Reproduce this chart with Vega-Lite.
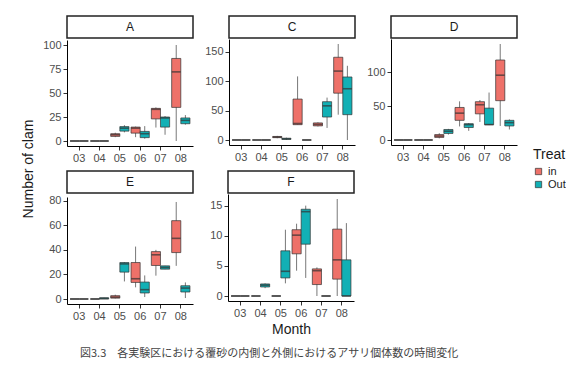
{
  "$schema": "https://vega.github.io/schema/vega-lite/v6.json",
  "background": "white",
  "padding": {"left": 22, "top": 15, "right": 0, "bottom": 0},
  "datasets": {
    "boxes": [
      {"site": "A", "month": "03", "treat": "in", "lo": 0, "q1": 0, "med": 0, "q3": 0, "hi": 0},
      {"site": "A", "month": "03", "treat": "Out", "lo": 0, "q1": 0, "med": 0, "q3": 0, "hi": 0},
      {"site": "A", "month": "04", "treat": "in", "lo": 0, "q1": 0, "med": 0, "q3": 0, "hi": 0},
      {"site": "A", "month": "04", "treat": "Out", "lo": 0, "q1": 0, "med": 0, "q3": 0, "hi": 0},
      {"site": "A", "month": "05", "treat": "in", "lo": 4, "q1": 4.8, "med": 6.5, "q3": 7.6, "hi": 8.6},
      {"site": "A", "month": "05", "treat": "Out", "lo": 9, "q1": 10.3, "med": 13.4, "q3": 15, "hi": 16.5},
      {"site": "A", "month": "06", "treat": "in", "lo": 4, "q1": 8.2, "med": 13.4, "q3": 14.5, "hi": 15},
      {"site": "A", "month": "06", "treat": "Out", "lo": 2.4, "q1": 3.5, "med": 7.6, "q3": 10, "hi": 15.5},
      {"site": "A", "month": "07", "treat": "in", "lo": 14, "q1": 23, "med": 33, "q3": 34, "hi": 35},
      {"site": "A", "month": "07", "treat": "Out", "lo": 6.5, "q1": 14.5, "med": 24, "q3": 25, "hi": 26},
      {"site": "A", "month": "08", "treat": "in", "lo": 0, "q1": 35, "med": 72, "q3": 86, "hi": 100},
      {"site": "A", "month": "08", "treat": "Out", "lo": 17, "q1": 18, "med": 21.5, "q3": 24, "hi": 27},

      {"site": "C", "month": "03", "treat": "in", "lo": 0, "q1": 0, "med": 0, "q3": 0, "hi": 0},
      {"site": "C", "month": "03", "treat": "Out", "lo": 0, "q1": 0, "med": 0, "q3": 0, "hi": 0},
      {"site": "C", "month": "04", "treat": "in", "lo": 0, "q1": 0, "med": 0, "q3": 0, "hi": 0},
      {"site": "C", "month": "04", "treat": "Out", "lo": 0, "q1": 0, "med": 0, "q3": 0, "hi": 0},
      {"site": "C", "month": "05", "treat": "in", "lo": 3, "q1": 4, "med": 5, "q3": 6, "hi": 7},
      {"site": "C", "month": "05", "treat": "Out", "lo": 0, "q1": 1, "med": 2, "q3": 3, "hi": 4},
      {"site": "C", "month": "06", "treat": "in", "lo": 26, "q1": 26, "med": 28, "q3": 69.5, "hi": 108},
      {"site": "C", "month": "06", "treat": "Out", "lo": 0, "q1": 0, "med": 0, "q3": 0, "hi": 0},
      {"site": "C", "month": "07", "treat": "in", "lo": 23, "q1": 24, "med": 26.5, "q3": 29, "hi": 30},
      {"site": "C", "month": "07", "treat": "Out", "lo": 20.5, "q1": 39, "med": 58, "q3": 65, "hi": 72},
      {"site": "C", "month": "08", "treat": "in", "lo": 43, "q1": 79.5, "med": 117, "q3": 140.5, "hi": 163},
      {"site": "C", "month": "08", "treat": "Out", "lo": 0, "q1": 43, "med": 87, "q3": 107, "hi": 126},

      {"site": "D", "month": "03", "treat": "in", "lo": 0, "q1": 0, "med": 0, "q3": 0, "hi": 0},
      {"site": "D", "month": "03", "treat": "Out", "lo": 0, "q1": 0, "med": 0, "q3": 0, "hi": 0},
      {"site": "D", "month": "04", "treat": "in", "lo": 0, "q1": 0, "med": 0, "q3": 0, "hi": 0},
      {"site": "D", "month": "04", "treat": "Out", "lo": 0, "q1": 0, "med": 0, "q3": 0, "hi": 0},
      {"site": "D", "month": "05", "treat": "in", "lo": 2.4, "q1": 3.8, "med": 5.8, "q3": 8, "hi": 10},
      {"site": "D", "month": "05", "treat": "Out", "lo": 8, "q1": 9.7, "med": 13, "q3": 15.5, "hi": 16.4},
      {"site": "D", "month": "06", "treat": "in", "lo": 20, "q1": 29, "med": 39.6, "q3": 48, "hi": 57},
      {"site": "D", "month": "06", "treat": "Out", "lo": 13.5, "q1": 18.4, "med": 22.7, "q3": 24, "hi": 25},
      {"site": "D", "month": "07", "treat": "in", "lo": 26.6, "q1": 38.6, "med": 52, "q3": 56.5, "hi": 59},
      {"site": "D", "month": "07", "treat": "Out", "lo": 22, "q1": 22.7, "med": 22.7, "q3": 47, "hi": 70},
      {"site": "D", "month": "08", "treat": "in", "lo": 20.7, "q1": 58, "med": 95.6, "q3": 118, "hi": 141.6},
      {"site": "D", "month": "08", "treat": "Out", "lo": 15.5, "q1": 20.7, "med": 25.6, "q3": 29, "hi": 30.4},

      {"site": "E", "month": "03", "treat": "in", "lo": 0, "q1": 0, "med": 0, "q3": 0, "hi": 0},
      {"site": "E", "month": "03", "treat": "Out", "lo": 0, "q1": 0, "med": 0, "q3": 0, "hi": 0},
      {"site": "E", "month": "04", "treat": "in", "lo": 0, "q1": 0, "med": 0, "q3": 0, "hi": 0},
      {"site": "E", "month": "04", "treat": "Out", "lo": 0, "q1": 0, "med": 0.5, "q3": 1, "hi": 1},
      {"site": "E", "month": "05", "treat": "in", "lo": 0.5, "q1": 0.7, "med": 1.5, "q3": 2.7, "hi": 3.5},
      {"site": "E", "month": "05", "treat": "Out", "lo": 14.3, "q1": 21.9, "med": 28.6, "q3": 29.7, "hi": 30},
      {"site": "E", "month": "06", "treat": "in", "lo": 9.5, "q1": 13.5, "med": 16.5, "q3": 29.7, "hi": 42.7},
      {"site": "E", "month": "06", "treat": "Out", "lo": 1.6, "q1": 4.9, "med": 7.6, "q3": 13.8, "hi": 19.2},
      {"site": "E", "month": "07", "treat": "in", "lo": 19, "q1": 27.3, "med": 36, "q3": 38.6, "hi": 40},
      {"site": "E", "month": "07", "treat": "Out", "lo": 24.3, "q1": 24.3, "med": 25.7, "q3": 27, "hi": 27},
      {"site": "E", "month": "08", "treat": "in", "lo": 27, "q1": 37.8, "med": 49.4, "q3": 63.8, "hi": 79},
      {"site": "E", "month": "08", "treat": "Out", "lo": 0.8, "q1": 5.7, "med": 8.9, "q3": 10.8, "hi": 13.5},

      {"site": "F", "month": "03", "treat": "in", "lo": 0, "q1": 0, "med": 0, "q3": 0, "hi": 0},
      {"site": "F", "month": "03", "treat": "Out", "lo": 0, "q1": 0, "med": 0, "q3": 0, "hi": 0},
      {"site": "F", "month": "04", "treat": "in", "lo": 0, "q1": 0, "med": 0, "q3": 0, "hi": 0},
      {"site": "F", "month": "04", "treat": "Out", "lo": 1.3, "q1": 1.5, "med": 1.8, "q3": 2, "hi": 2.1},
      {"site": "F", "month": "05", "treat": "in", "lo": 0, "q1": 0, "med": 0, "q3": 0, "hi": 0},
      {"site": "F", "month": "05", "treat": "Out", "lo": 2.1, "q1": 3, "med": 4.1, "q3": 7.5, "hi": 11},
      {"site": "F", "month": "06", "treat": "in", "lo": 4.2, "q1": 7, "med": 10.1, "q3": 11, "hi": 12},
      {"site": "F", "month": "06", "treat": "Out", "lo": 3, "q1": 8.6, "med": 14, "q3": 14.4, "hi": 15},
      {"site": "F", "month": "07", "treat": "in", "lo": 0, "q1": 1.9, "med": 4.2, "q3": 4.5, "hi": 4.75},
      {"site": "F", "month": "07", "treat": "Out", "lo": 0, "q1": 0, "med": 0, "q3": 0, "hi": 0},
      {"site": "F", "month": "08", "treat": "in", "lo": 0, "q1": 2.8, "med": 6, "q3": 11.1, "hi": 16.1},
      {"site": "F", "month": "08", "treat": "Out", "lo": 0, "q1": 0, "med": 0, "q3": 6, "hi": 12.1}
    ]
  },
  "title": {
    "text": "図3.3　各実験区における覆砂の内側と外側におけるアサリ個体数の時間変化",
    "orient": "bottom",
    "anchor": "start",
    "frame": "group",
    "dx": 58,
    "offset": 12,
    "font": "Noto Sans CJK JP",
    "fontSize": 11,
    "fontWeight": "normal",
    "color": "#444444"
  },
  "spacing": 6,
  "resolve": {"scale": {"xOffset": "independent"}},
  "hconcat": [
    {
      "width": 14, "height": 306,
      "data": {"values": [{"label": "Number of clam"}]},
      "mark": {"type": "text", "angle": 270, "fontSize": 14, "color": "#1a1a1a", "font": "Liberation Sans"},
      "encoding": {"text": {"field": "label"}}
    },
    {
      "spacing": 7,
      "resolve": {"scale": {"xOffset": "independent"}},
      "vconcat": [
        {
          "spacing": 10,
          "resolve": {"scale": {"xOffset": "independent"}},
          "hconcat": [
            {
              "spacing": 0,
              "resolve": {"scale": {"xOffset": "independent"}},
              "vconcat": [
                {"width": 126, "height": 22, "data": {"values": [{"site": "A"}]}, "mark": {"type": "text", "fontSize": 12, "color": "#1a1a1a", "font": "Liberation Sans"}, "encoding": {"text": {"field": "site"}}, "view": {"stroke": "#222222", "strokeWidth": 1.5, "fill": "white"}},
                {
                  "width": 126, "height": 106,
                  "data": {"name": "boxes"},
                  "transform": [{"filter": "datum.site === 'A'"}],
                  "encoding": {
                    "x": {"field": "month", "type": "nominal", "scale": {"paddingInner": 0.1, "paddingOuter": 0.15}, "axis": {"title": null}},
                    "xOffset": {"field": "treat", "type": "nominal", "scale": {"domain": ["in", "Out"], "paddingInner": 0, "paddingOuter": 0}}
                  },
                  "layer": [
                    {"mark": {"type": "rule", "color": "#555555", "strokeWidth": 0.8}, "encoding": {"y": {"field": "lo", "type": "quantitative", "scale": {"padding": 5, "nice": false}, "axis": {"values": [0, 25, 50, 75, 100], "title": null}}, "y2": {"field": "hi"}}},
                    {"mark": {"type": "bar", "stroke": "#333333", "strokeWidth": 0.7}, "encoding": {"y": {"field": "q1", "type": "quantitative", "axis": {"values": [0, 25, 50, 75, 100], "title": null}}, "y2": {"field": "q3"}, "color": {"field": "treat", "type": "nominal", "scale": {"domain": ["in", "Out"], "range": ["#EE7169", "#12B0B5"]}, "legend": {"title": "Treat", "orient": "none", "legendX": 511, "legendY": 132}}}},
                    {"mark": {"type": "tick", "color": "#333333", "thickness": 1.6, "size": 9}, "encoding": {"y": {"field": "med", "type": "quantitative", "axis": {"values": [0, 25, 50, 75, 100], "title": null}}}}
                  ]
                }
              ]
            },
            {
              "spacing": 0,
              "resolve": {"scale": {"xOffset": "independent"}},
              "vconcat": [
                {"width": 126, "height": 22, "data": {"values": [{"site": "C"}]}, "mark": {"type": "text", "fontSize": 12, "color": "#1a1a1a", "font": "Liberation Sans"}, "encoding": {"text": {"field": "site"}}, "view": {"stroke": "#222222", "strokeWidth": 1.5, "fill": "white"}},
                {
                  "width": 126, "height": 106,
                  "data": {"name": "boxes"},
                  "transform": [{"filter": "datum.site === 'C'"}],
                  "encoding": {
                    "x": {"field": "month", "type": "nominal", "scale": {"paddingInner": 0.1, "paddingOuter": 0.15}, "axis": {"title": null}},
                    "xOffset": {"field": "treat", "type": "nominal", "scale": {"domain": ["in", "Out"], "paddingInner": 0, "paddingOuter": 0}}
                  },
                  "layer": [
                    {"mark": {"type": "rule", "color": "#555555", "strokeWidth": 0.8}, "encoding": {"y": {"field": "lo", "type": "quantitative", "scale": {"padding": 5, "nice": false}, "axis": {"values": [0, 50, 100, 150], "title": null}}, "y2": {"field": "hi"}}},
                    {"mark": {"type": "bar", "stroke": "#333333", "strokeWidth": 0.7}, "encoding": {"y": {"field": "q1", "type": "quantitative", "axis": {"values": [0, 50, 100, 150], "title": null}}, "y2": {"field": "q3"}, "color": {"field": "treat", "type": "nominal"}}},
                    {"mark": {"type": "tick", "color": "#333333", "thickness": 1.6, "size": 9}, "encoding": {"y": {"field": "med", "type": "quantitative", "axis": {"values": [0, 50, 100, 150], "title": null}}}}
                  ]
                }
              ]
            },
            {
              "spacing": 0,
              "resolve": {"scale": {"xOffset": "independent"}},
              "vconcat": [
                {"width": 126, "height": 22, "data": {"values": [{"site": "D"}]}, "mark": {"type": "text", "fontSize": 12, "color": "#1a1a1a", "font": "Liberation Sans"}, "encoding": {"text": {"field": "site"}}, "view": {"stroke": "#222222", "strokeWidth": 1.5, "fill": "white"}},
                {
                  "width": 126, "height": 106,
                  "data": {"name": "boxes"},
                  "transform": [{"filter": "datum.site === 'D'"}],
                  "encoding": {
                    "x": {"field": "month", "type": "nominal", "scale": {"paddingInner": 0.1, "paddingOuter": 0.15}, "axis": {"title": null}},
                    "xOffset": {"field": "treat", "type": "nominal", "scale": {"domain": ["in", "Out"], "paddingInner": 0, "paddingOuter": 0}}
                  },
                  "layer": [
                    {"mark": {"type": "rule", "color": "#555555", "strokeWidth": 0.8}, "encoding": {"y": {"field": "lo", "type": "quantitative", "scale": {"padding": 5, "nice": false}, "axis": {"values": [0, 50, 100], "title": null}}, "y2": {"field": "hi"}}},
                    {"mark": {"type": "bar", "stroke": "#333333", "strokeWidth": 0.7}, "encoding": {"y": {"field": "q1", "type": "quantitative", "axis": {"values": [0, 50, 100], "title": null}}, "y2": {"field": "q3"}, "color": {"field": "treat", "type": "nominal"}}},
                    {"mark": {"type": "tick", "color": "#333333", "thickness": 1.6, "size": 9}, "encoding": {"y": {"field": "med", "type": "quantitative", "axis": {"values": [0, 50, 100], "title": null}}}}
                  ]
                }
              ]
            }
          ]
        },
        {
          "spacing": 15,
          "resolve": {"scale": {"xOffset": "independent"}},
          "hconcat": [
            {
              "spacing": 0,
              "resolve": {"scale": {"xOffset": "independent"}},
              "vconcat": [
                {"width": 126, "height": 22, "data": {"values": [{"site": "E"}]}, "mark": {"type": "text", "fontSize": 12, "color": "#1a1a1a", "font": "Liberation Sans"}, "encoding": {"text": {"field": "site"}}, "view": {"stroke": "#222222", "strokeWidth": 1.5, "fill": "white"}},
                {
                  "width": 126, "height": 107,
                  "data": {"name": "boxes"},
                  "transform": [{"filter": "datum.site === 'E'"}],
                  "encoding": {
                    "x": {"field": "month", "type": "nominal", "scale": {"paddingInner": 0.1, "paddingOuter": 0.15}, "axis": {"title": null}},
                    "xOffset": {"field": "treat", "type": "nominal", "scale": {"domain": ["in", "Out"], "paddingInner": 0, "paddingOuter": 0}}
                  },
                  "layer": [
                    {"mark": {"type": "rule", "color": "#555555", "strokeWidth": 0.8}, "encoding": {"y": {"field": "lo", "type": "quantitative", "scale": {"padding": 5, "nice": false}, "axis": {"values": [0, 20, 40, 60, 80], "title": null}}, "y2": {"field": "hi"}}},
                    {"mark": {"type": "bar", "stroke": "#333333", "strokeWidth": 0.7}, "encoding": {"y": {"field": "q1", "type": "quantitative", "axis": {"values": [0, 20, 40, 60, 80], "title": null}}, "y2": {"field": "q3"}, "color": {"field": "treat", "type": "nominal"}}},
                    {"mark": {"type": "tick", "color": "#333333", "thickness": 1.6, "size": 9}, "encoding": {"y": {"field": "med", "type": "quantitative", "axis": {"values": [0, 20, 40, 60, 80], "title": null}}}}
                  ]
                }
              ]
            },
            {
              "spacing": 0,
              "resolve": {"scale": {"xOffset": "independent"}},
              "vconcat": [
                {"width": 126, "height": 22, "data": {"values": [{"site": "F"}]}, "mark": {"type": "text", "fontSize": 12, "color": "#1a1a1a", "font": "Liberation Sans"}, "encoding": {"text": {"field": "site"}}, "view": {"stroke": "#222222", "strokeWidth": 1.5, "fill": "white"}},
                {
                  "width": 126, "height": 107,
                  "data": {"name": "boxes"},
                  "transform": [{"filter": "datum.site === 'F'"}],
                  "encoding": {
                    "x": {"field": "month", "type": "nominal", "scale": {"paddingInner": 0.1, "paddingOuter": 0.15}, "axis": {"title": "Month"}},
                    "xOffset": {"field": "treat", "type": "nominal", "scale": {"domain": ["in", "Out"], "paddingInner": 0, "paddingOuter": 0}}
                  },
                  "layer": [
                    {"mark": {"type": "rule", "color": "#555555", "strokeWidth": 0.8}, "encoding": {"y": {"field": "lo", "type": "quantitative", "scale": {"padding": 5, "nice": false}, "axis": {"values": [0, 5, 10, 15], "title": null}}, "y2": {"field": "hi"}}},
                    {"mark": {"type": "bar", "stroke": "#333333", "strokeWidth": 0.7}, "encoding": {"y": {"field": "q1", "type": "quantitative", "axis": {"values": [0, 5, 10, 15], "title": null}}, "y2": {"field": "q3"}, "color": {"field": "treat", "type": "nominal"}}},
                    {"mark": {"type": "tick", "color": "#333333", "thickness": 1.6, "size": 9}, "encoding": {"y": {"field": "med", "type": "quantitative", "axis": {"values": [0, 5, 10, 15], "title": null}}}}
                  ]
                }
              ]
            }
          ]
        }
      ]
    }
  ],
  "config": {
    "font": "Liberation Sans",
    "view": {"stroke": null},
    "axis": {
      "grid": false,
      "domainColor": "#000000",
      "domainWidth": 1,
      "tickColor": "#333333",
      "tickSize": 4,
      "tickWidth": 1,
      "labelFontSize": 11,
      "labelColor": "#4d4d4d",
      "labelPadding": 2,
      "titleFontSize": 14,
      "titleFontWeight": "normal",
      "titleColor": "#1a1a1a",
      "titlePadding": 4
    },
    "axisX": {"labelAngle": 0},
    "legend": {
      "titleFontSize": 14,
      "titleFontWeight": "normal",
      "titleColor": "#1a1a1a",
      "titlePadding": 4,
      "labelFontSize": 11,
      "labelColor": "#1a1a1a",
      "symbolType": "square",
      "symbolSize": 40,
      "symbolStrokeColor": "#333333",
      "symbolStrokeWidth": 0.7,
      "rowPadding": 1
    }
  }
}
